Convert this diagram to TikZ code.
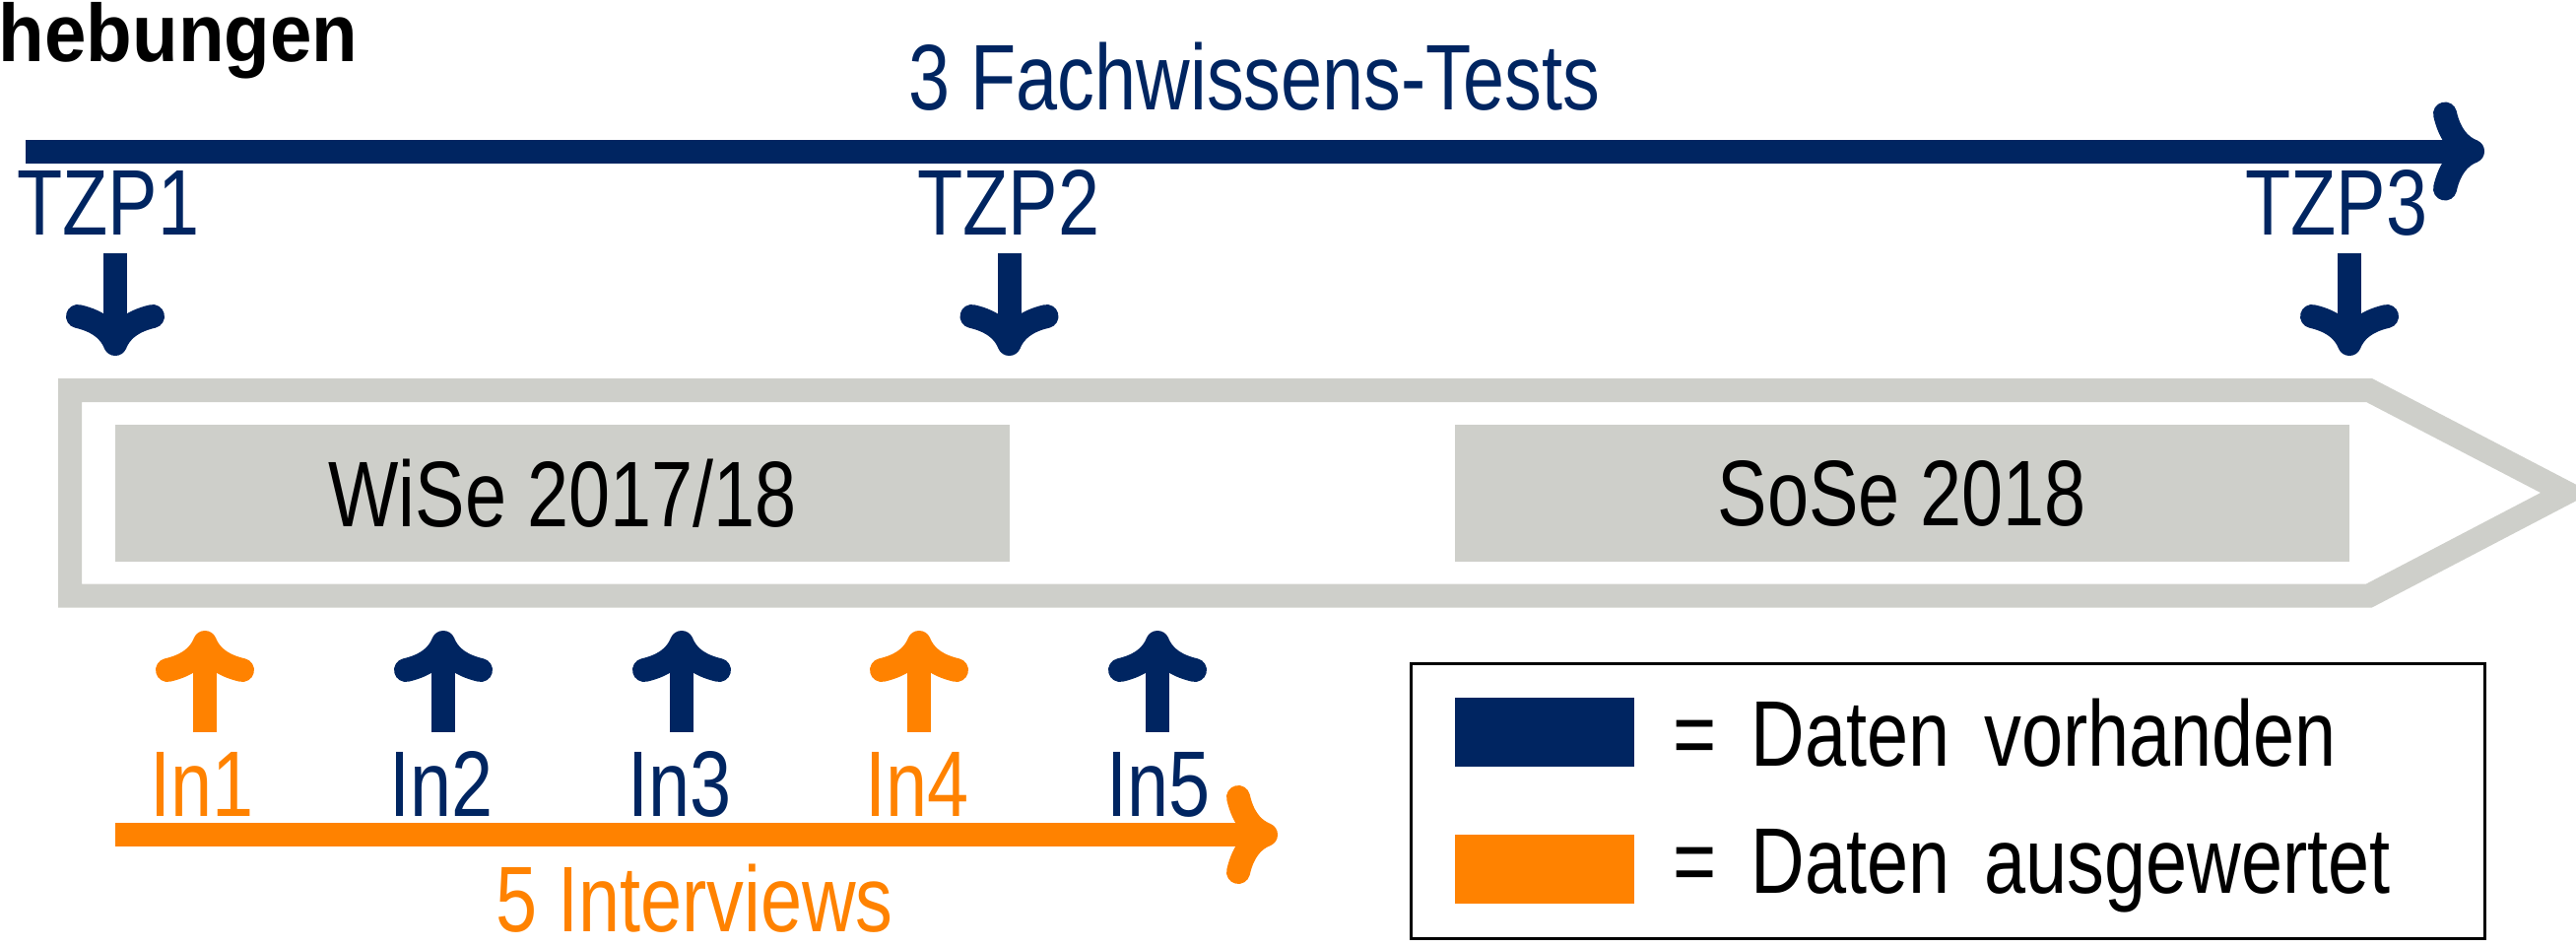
\documentclass[tikz,border=0pt]{standalone}
\usepackage{fontspec}
\setmainfont{Liberation Sans}[FakeStretch=0.8]
\newfontfamily\titlefont{Liberation Sans}[FakeStretch=0.92]
\usepackage{tikz}
\usetikzlibrary{arrows.meta,
                positioning}

\definecolor{navy}{RGB}{0,37,97}
\definecolor{orng}{RGB}{255,130,0}
\definecolor{lgray}{RGB}{206,207,202}

\begin{document}
\begin{tikzpicture}[scale=1]

\useasboundingbox (0,0) rectangle (26.15,9.6);

\node[anchor=base west, inner sep=0, font=\titlefont\bfseries\fontsize{23.6}{26}\selectfont] (titel) at (-0.02,8.98) {hebungen};

%\draw[thick] (0,0) rectangle (26.15,9.6);

\begin{scope}[ txt/.style = {inner sep=0, anchor=base, font=\fontsize{26.9}{30}\selectfont},
               pfeil/.style = {line width=0.24cm, -{Computer Modern Rightarrow[round, length=0.52cm, width=1.0cm]}},
               sem/.style = {fill=lgray, inner sep=0, minimum width=9.08cm, minimum height=1.39cm, font=\fontsize{26.9}{30}\selectfont}]

    % Semester
    \draw[lgray, line width=0.24cm] (0.71,5.64) -- (24.05,5.64) -- (26.05,4.6) -- (24.05,3.555) -- (0.71,3.555) -- cycle;
    \node[sem] (ws) at (5.71,4.595) {WiSe 2017/18};
    \node[sem] (ss) at (19.31,4.595) {SoSe 2018};

    % Tests
    \node[txt, navy] (tests) at (12.735,8.49) {3 Fachwissens-Tests};
    \coordinate (ta) at (0.26,8.065);
    \coordinate (tb) at (25.22,8.065);
    \draw[pfeil, navy] (ta) -- (tb);

    \node[txt, navy] (t1) at (1.10,7.22) {TZP1};
    \node[txt, navy] (t2) at (10.24,7.22) {TZP2};
    \node[txt, navy] (t3) at (23.72,7.22) {TZP3};

    \coordinate (d1) at (1.17,7.03);   \coordinate (e1) at (1.17,5.99);
    \coordinate (d2) at (10.245,7.03); \coordinate (e2) at (10.245,5.99);
    \coordinate (d3) at (23.85,7.03);  \coordinate (e3) at (23.85,5.99);
    \draw[pfeil, navy] (d1) -- (e1);
    \draw[pfeil, navy] (d2) -- (e2);
    \draw[pfeil, navy] (d3) -- (e3);

    % Interviews
    \coordinate (u1) at (2.08,2.17);  \coordinate (v1) at (2.08,3.20);
    \coordinate (u2) at (4.50,2.17);  \coordinate (v2) at (4.50,3.20);
    \coordinate (u3) at (6.92,2.17);  \coordinate (v3) at (6.92,3.20);
    \coordinate (u4) at (9.33,2.17);  \coordinate (v4) at (9.33,3.20);
    \coordinate (u5) at (11.75,2.17); \coordinate (v5) at (11.75,3.20);
    \draw[pfeil, orng] (u1) -- (v1);
    \draw[pfeil, navy] (u2) -- (v2);
    \draw[pfeil, navy] (u3) -- (v3);
    \draw[pfeil, orng] (u4) -- (v4);
    \draw[pfeil, navy] (u5) -- (v5);

    \node[txt, orng] (in1) at (2.05,1.32) {In1};
    \node[txt, navy] (in2) at (4.48,1.32) {In2};
    \node[txt, navy] (in3) at (6.90,1.32) {In3};
    \node[txt, orng] (in4) at (9.31,1.32) {In4};
    \node[txt, navy] (in5) at (11.76,1.32) {In5};

    \coordinate (ia) at (1.17,1.13);
    \coordinate (ib) at (12.97,1.13);
    \draw[pfeil, orng] (ia) -- (ib);
    \node[txt, orng] (int) at (7.05,0.15) {5 Interviews};

    % Legende
    \draw[black, line width=0.03cm] (14.32,0.08) rectangle (25.22,2.87);
    \fill[navy] (14.77,1.82) rectangle (16.59,2.52);
    \fill[orng] (14.77,0.43) rectangle (16.59,1.13);
    \node[txt, anchor=base west] (l1) at (16.98,1.83) {=\hspace{0.14cm} Daten\hspace{0.14cm} vorhanden};
    \node[txt, anchor=base west] (l2) at (16.98,0.54) {=\hspace{0.14cm} Daten\hspace{0.14cm} ausgewertet};
\end{scope}

\end{tikzpicture}
\end{document}
